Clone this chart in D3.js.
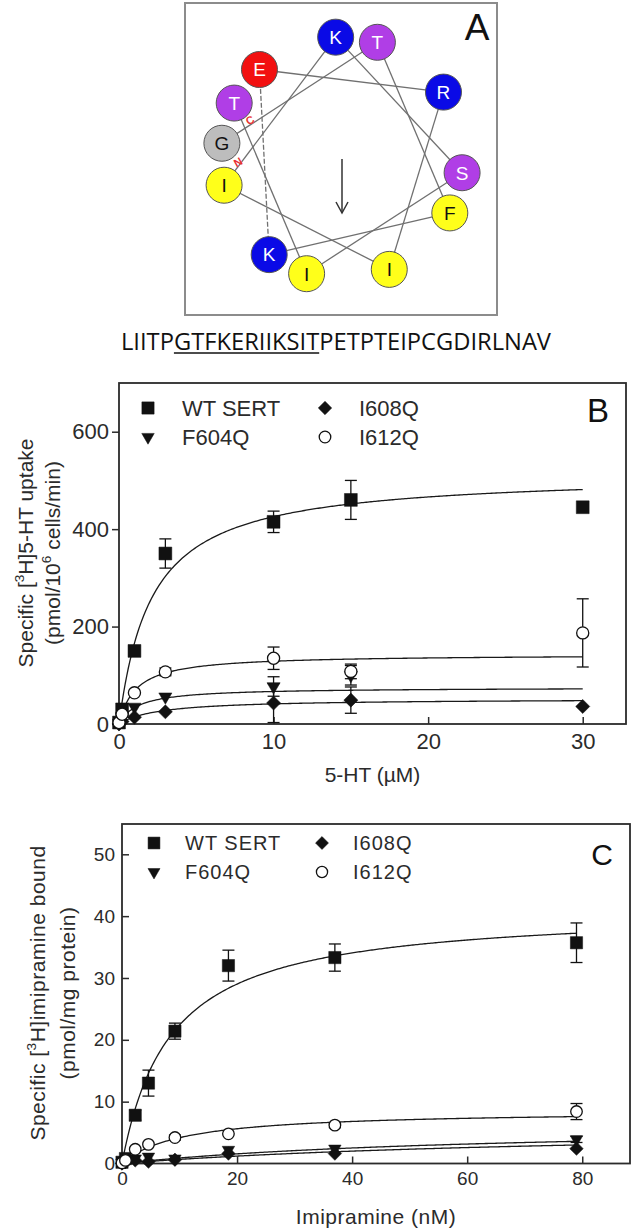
<!DOCTYPE html>
<html>
<head>
<meta charset="utf-8">
<script src="https://cdn.jsdelivr.net/npm/d3@7"></script>
<style>
body { margin: 0; background: #fff; }
</style>
</head>
<body>
<svg id="fig" width="633" height="1230"></svg>
<script>
// ---- panel A: helical wheel ----
var wheelSeq = ["G","T","F","K","E","R","I","I","K","S","I","T"];
var wheelFill = ["#bdbdbd","#b03ee6","#ffff1a","#0a0ae6","#f21010","#0a0ae6","#ffff1a","#ffff1a","#0a0ae6","#b03ee6","#ffff1a","#b03ee6"];
var wheelStart = 277;   // angle of first residue (deg, clockwise from top)
var wheelStep = 100;    // alpha helix: 100 deg per residue
var fullSeq = "LIITPGTFKERIIKSITPETPTEIPCGDIRLNAV";
var underlineFrom = 5, underlineTo = 16;

// ---- panels B and C ----
var seriesNames = ["WT SERT", "F604Q", "I608Q", "I612Q"];
var seriesShapes = ["square", "triangle", "diamond", "circle"];

// B: 5-HT uptake
var bX = [0, 0.2, 1, 3, 10, 15, 30];
var bY = [
  [3, 30, 150, 350, 415, 460, 445],
  [2, 15, 35, 56, 77, 100, null],
  [0, 5, 14, 25, 43, 49, 36],
  [3, 20, 64, 107, 135, 108, 187]
];
var bErr = [
  [0, 0, 0, 30, 22, 40, 0],
  [0, 0, 0, 0, 20, 20, 0],
  [0, 0, 0, 0, 40, 27, 0],
  [0, 0, 0, 8, 23, 15, 70]
];
var bFitVmax = [515, 75, 52, 143];
var bFitKm = [2.1, 1.24, 2.6, 1.1];
var bYTicks = [0, 200, 400, 600];
var bXTicks = [0, 10, 20, 30];

// C: imipramine binding
var cX = [0, 0.6, 2.3, 4.6, 9.2, 18.5, 37, 79];
var cY = [
  [0.2, 0.8, 7.8, 13.0, 21.4, 32.0, 33.3, 35.7],
  [0.1, 0.3, 0.8, 1.1, 0.8, 2.2, 2.4, 3.9],
  [0, 0.2, 0.5, 0.3, 0.6, 1.6, 1.6, 2.4],
  [0.1, 0.5, 2.3, 3.1, 4.2, 4.8, 6.2, 8.4]
];
var cErr = [
  [0, 0, 0.8, 2.1, 1.3, 2.5, 2.2, 3.2],
  [0, 0, 0, 0, 0, 0, 0, 0.5],
  [0, 0, 0, 0, 0, 0, 0, 0],
  [0, 0, 0, 0, 0.4, 0, 0.4, 1.3]
];
var cFitVmax = [41.2, 6.4, 6.1, 8.6];
var cFitKm = [8.4, 62, 82, 10.6];
var cYTicks = [0, 10, 20, 30, 40, 50];
var cXTicks = [0, 20, 40, 60, 80];

var ink = "#2b2b2b";
var narrow = "'Liberation Sans Narrow','Arial Narrow','Liberation Sans',Arial,sans-serif";
var regular = "'Liberation Sans',Arial,sans-serif";

var svg = d3.select("#fig");

// ================= A =================
var pa = svg.append("g");
pa.append("rect").attr("x", 185).attr("y", 3).attr("width", 312).attr("height", 312)
  .attr("fill", "#fff").attr("stroke", "#8c8c8c").attr("stroke-width", 2);

var cx = 342, cy = 158, rad = 121;
var angle = d3.scaleLinear().domain([0, 1]).range([wheelStart, wheelStart + wheelStep]);
var pos = wheelSeq.map(function(r, i) {
  var a = angle(i) * Math.PI / 180;
  return [cx + rad * Math.sin(a), cy - rad * Math.cos(a)];
});
for (var i = 0; i < pos.length - 1; i++) {
  pa.append("line")
    .attr("x1", pos[i][0]).attr("y1", pos[i][1])
    .attr("x2", pos[i+1][0]).attr("y2", pos[i+1][1])
    .attr("stroke", "#707070").attr("stroke-width", 1.3)
    .attr("stroke-dasharray", i == 3 ? "5,2" : null);
}
// direction arrow
pa.append("line").attr("x1", cx).attr("y1", 159).attr("x2", cx).attr("y2", 213)
  .attr("stroke", "#333").attr("stroke-width", 1.5);
pa.append("path").attr("d", "M336,202L342,213L348,202").attr("fill", "none")
  .attr("stroke", "#333").attr("stroke-width", 1.5);

var res = pa.selectAll(".res").data(wheelSeq).enter().append("g")
  .attr("transform", function(d, i) { return "translate(" + pos[i][0] + "," + pos[i][1] + ")"; });
res.append("circle").attr("r", 18).attr("fill", function(d, i) { return wheelFill[i]; })
  .attr("stroke", "#555").attr("stroke-width", 1);
res.append("text").attr("text-anchor", "middle").attr("dy", "0.36em")
  .attr("font-family", regular).attr("font-size", 19)
  .attr("fill", function(d, i) { return (wheelFill[i] == "#ffff1a" || wheelFill[i] == "#bdbdbd") ? "#111" : "#fff"; })
  .text(function(d) { return d; });

pa.append("text").attr("x", 250).attr("y", 124).attr("text-anchor", "middle")
  .attr("font-family", regular).attr("font-size", 11).attr("font-weight", "bold")
  .attr("fill", "#e83030").attr("transform", "rotate(-30,250,120)").text("C");
pa.append("text").attr("x", 238).attr("y", 166).attr("text-anchor", "middle")
  .attr("font-family", regular).attr("font-size", 11).attr("font-weight", "bold")
  .attr("fill", "#e83030").attr("transform", "rotate(-30,238,162)").text("N");

pa.append("text").attr("x", 477).attr("y", 40).attr("text-anchor", "middle")
  .attr("font-family", regular).attr("font-size", 37).attr("fill", "#111").text("A");

var seqText = svg.append("text").attr("x", 121).attr("y", 350)
  .attr("font-family", "'Open Sans','Liberation Sans',sans-serif").attr("font-size", 23)
  .attr("fill", "#111").attr("textLength", 430).attr("lengthAdjust", "spacingAndGlyphs")
  .text(fullSeq);
var e0 = seqText.node().getExtentOfChar(underlineFrom);
var e1 = seqText.node().getExtentOfChar(underlineTo);
svg.append("line").attr("x1", e0.x).attr("x2", e1.x + e1.width).attr("y1", 353).attr("y2", 353)
  .attr("stroke", "#111").attr("stroke-width", 1.5);

// ================= shared helpers =================
function marker(shape, size) {
  if (shape == "square") return d3.symbol().type(d3.symbolSquare).size(size)();
  if (shape == "triangle") return d3.symbol().type(d3.symbolTriangle).size(size * 0.45)();
  if (shape == "diamond") return d3.symbol().type(d3.symbolSquare).size(size * 0.6)();
  return d3.symbol().type(d3.symbolCircle).size(size * 0.7)();
}
function markerRot(shape) {
  if (shape == "triangle") return " rotate(180)";
  if (shape == "diamond") return " rotate(45)";
  return "";
}
function drawMarker(g, shape, x, y, size) {
  g.append("path").attr("d", marker(shape, size))
    .attr("transform", "translate(" + x + "," + y + ")" + markerRot(shape))
    .attr("fill", shape == "circle" ? "#fff" : "#111")
    .attr("stroke", "#111").attr("stroke-width", shape == "circle" ? 1.3 : 0.5);
}
function yLabel(g, x, y, parts, size, fam, spacing) {
  var t = g.append("text").attr("transform", "translate(" + x + "," + y + ") rotate(-90)")
    .attr("text-anchor", "middle").attr("font-size", size).attr("font-family", fam)
    .attr("fill", ink).attr("letter-spacing", spacing || 0);
  var up = false;
  parts.forEach(function(p) {
    var s = t.append("tspan").text(p.t);
    if (p.sup) { s.attr("font-size", size * 0.65).attr("dy", -size * 0.42); up = true; }
    else if (up) { s.attr("dy", size * 0.42); up = false; }
  });
}

function drawPanel(o) {
  var g = svg.append("g");
  var x = d3.scaleLinear().domain(o.xDomain).range(o.xRange);
  var y = d3.scaleLinear().domain(o.yDomain).range(o.yRange);

  // axes
  var ya = g.append("g").attr("transform", "translate(" + o.xRange[0] + ",0)")
    .call(d3.axisLeft(y).tickValues(o.yTicks).tickSize(o.yTickSize).tickPadding(o.yPad));
  var xa = g.append("g").attr("transform", "translate(0," + o.yRange[0] + ")")
    .call(d3.axisBottom(x).tickValues(o.xTicks).tickSize(-7).tickPadding(o.xPad));
  [ya, xa].forEach(function(a) {
    a.select(".domain").remove();
    a.selectAll("line").attr("stroke", ink).attr("stroke-width", 1.5);
    a.selectAll("text").attr("font-family", o.font).attr("font-size", o.tickSize).attr("fill", ink);
  });
  g.append("rect").attr("x", o.xRange[0]).attr("y", o.yRange[1])
    .attr("width", o.xRange[1] - o.xRange[0]).attr("height", o.yRange[0] - o.yRange[1])
    .attr("fill", "none").attr("stroke", ink).attr("stroke-width", 1.8);

  // fitted hyperbolas
  var xs = d3.range(0, o.fitEnd + 1e-9, o.fitEnd / 300);
  o.vmax.forEach(function(vm, s) {
    var line = d3.line().x(function(d) { return x(d); })
      .y(function(d) { return y(vm * d / (o.km[s] + d)); });
    g.append("path").attr("d", line(xs)).attr("fill", "none")
      .attr("stroke", "#1a1a1a").attr("stroke-width", 1.3);
  });

  // error bars then markers
  o.ys.forEach(function(vals, s) {
    vals.forEach(function(v, k) {
      var e = o.errs[s][k];
      if (v == null || !e) return;
      var px = x(o.xs[k]);
      g.append("line").attr("x1", px).attr("x2", px).attr("y1", y(v - e)).attr("y2", y(v + e))
        .attr("stroke", "#111").attr("stroke-width", 1.3);
      [v - e, v + e].forEach(function(w) {
        g.append("line").attr("x1", px - 6).attr("x2", px + 6).attr("y1", y(w)).attr("y2", y(w))
          .attr("stroke", "#111").attr("stroke-width", 1.3);
      });
    });
  });
  o.ys.forEach(function(vals, s) {
    vals.forEach(function(v, k) {
      if (v == null) return;
      drawMarker(g, seriesShapes[s], x(o.xs[k]), y(v), o.mSize);
    });
  });

  // legend, two columns of two
  seriesNames.forEach(function(n, s) {
    var col = (s < 2) ? 0 : 1;
    var row = s % 2;
    var mx = o.legX[col], my = o.legY[row];
    drawMarker(g, seriesShapes[s], mx, my, o.legM);
    g.append("text").attr("x", mx + o.legGap).attr("y", my).attr("dy", "0.36em")
      .attr("font-family", o.font).attr("font-size", o.legSize).attr("letter-spacing", o.legSpacing)
      .attr("fill", ink).text(n);
  });

  g.append("text").attr("x", o.tag[0]).attr("y", o.tag[1]).attr("text-anchor", "middle")
    .attr("font-family", regular).attr("font-size", o.tagSize).attr("fill", "#111").text(o.tagText);

  yLabel(g, o.yl1[0], o.yl1[1], o.ylab1, o.labSize, o.font, o.labSpacing);
  yLabel(g, o.yl2[0], o.yl2[1], o.ylab2, o.labSize, o.font, o.labSpacing);
  g.append("text").attr("x", (o.xRange[0] + o.xRange[1]) / 2).attr("y", o.xlY)
    .attr("text-anchor", "middle").attr("font-family", o.font).attr("font-size", o.labSize)
    .attr("letter-spacing", o.labSpacing).attr("fill", ink).text(o.xlab);
}

drawPanel({
  xDomain: [0, 32.8], xRange: [119, 626], yDomain: [0, 700], yRange: [724, 383],
  yTicks: bYTicks, xTicks: bXTicks, yTickSize: 7, yPad: 3, xPad: 9,
  font: narrow, tickSize: 22,
  xs: bX, ys: bY, errs: bErr, vmax: bFitVmax, km: bFitKm, fitEnd: 30, mSize: 165,
  legX: [148, 325], legY: [408, 437], legGap: 34, legM: 150, legSize: 22, legSpacing: 0,
  tag: [598, 422], tagSize: 33, tagText: "B",
  yl1: [33, 553], yl2: [60, 553], labSize: 21, labSpacing: 0,
  ylab1: [{t: "Specific ["}, {t: "3", sup: true}, {t: "H]5-HT uptake"}],
  ylab2: [{t: "(pmol/10"}, {t: "6", sup: true}, {t: " cells/min)"}],
  xlab: "5-HT (\u00b5M)", xlY: 782
});

drawPanel({
  xDomain: [0, 88.3], xRange: [122, 630], yDomain: [0, 54.9], yRange: [1163.5, 824],
  yTicks: cYTicks, xTicks: cXTicks, yTickSize: -7, yPad: 7, xPad: 8,
  font: regular, tickSize: 19,
  xs: cX, ys: cY, errs: cErr, vmax: cFitVmax, km: cFitKm, fitEnd: 79, mSize: 150,
  legX: [154, 322], legY: [843, 872], legGap: 31, legM: 140, legSize: 20, legSpacing: 1,
  tag: [602, 865], tagSize: 30, tagText: "C",
  yl1: [45, 993], yl2: [75, 993], labSize: 21, labSpacing: 0.5,
  ylab1: [{t: "Specific ["}, {t: "3", sup: true}, {t: "H]imipramine bound"}],
  ylab2: [{t: "(pmol/mg protein)"}],
  xlab: "Imipramine (nM)", xlY: 1224
});
</script>
</body>
</html>
